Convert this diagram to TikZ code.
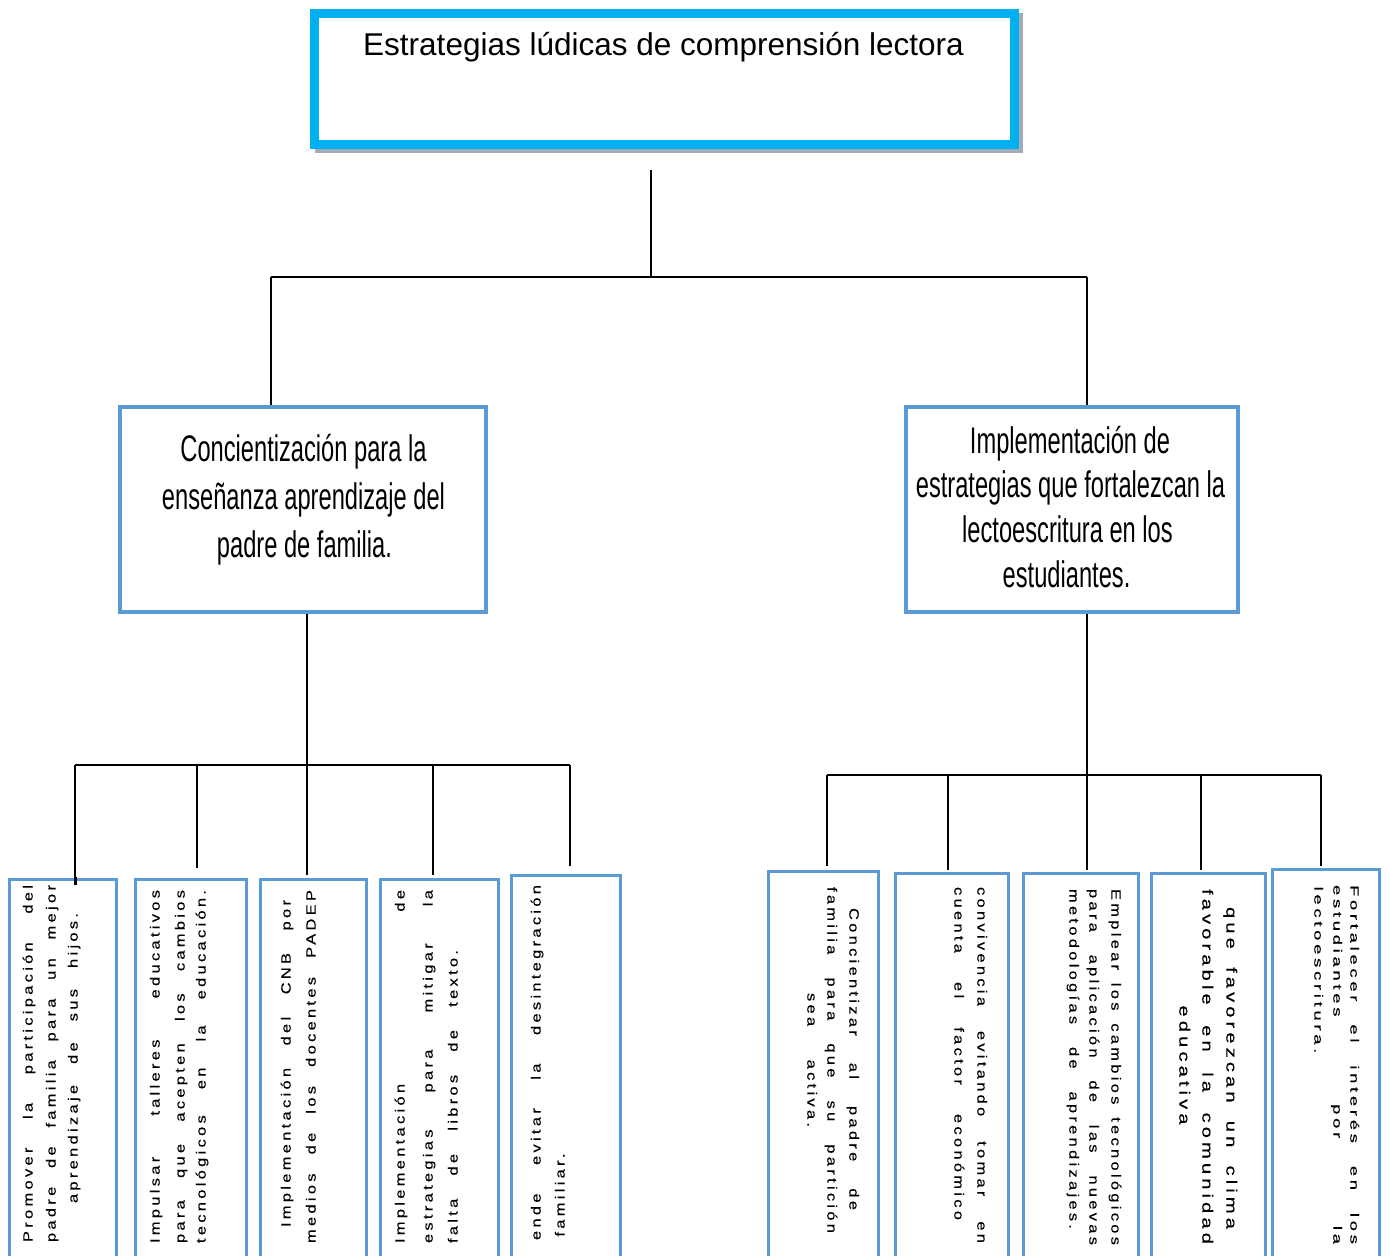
\documentclass[tikz,border=0pt]{standalone}
\usepackage{fontspec}
\usepackage{graphicx}
\setmainfont{Liberation Sans}
\newfontfamily\narrowf[FakeStretch=0.64]{Liberation Sans}
\newfontfamily\spacedf[LetterSpace=20, FakeBold=0.3]{Liberation Sans}
\definecolor{cyanb}{HTML}{00B0F0}
\definecolor{blueb}{HTML}{5B9BD5}
\definecolor{shadowg}{HTML}{A3ABB8}
\def\stk{1.22}\def\stp{122}
\newcommand\jl[2]{\scalebox{\stk}[1]{\makebox[\dimexpr #1pt*100/\stp\relax][s]{#2}}}
\newcommand\nl[1]{\scalebox{\stk}[1]{#1}}
\begin{document}
\begin{tikzpicture}[x=1pt,y=-1pt,
  topbox/.style={draw=cyanb, line width=9pt, fill=white, inner sep=0pt, minimum width=700pt, minimum height=131pt},
  midbox/.style={draw=blueb, line width=3.5pt, inner sep=0pt, minimum height=205pt},
  lowbox/.style={draw=blueb, line width=3pt, inner sep=0pt, anchor=north, minimum height=420pt},
  conn/.style={draw=black, line width=1.4pt},
  midtxt/.style={font=\narrowf\fontsize{37}{44}\selectfont, anchor=base, inner sep=0pt},
  lt/.style={font=\spacedf\fontsize{13.5}{16}\selectfont, anchor=mid, inner sep=0pt, rotate=90},
  rt/.style={font=\spacedf\fontsize{13.5}{16}\selectfont, anchor=mid, inner sep=0pt, rotate=-90},
  rtb/.style={rt, font=\spacedf\fontsize{15}{18}\selectfont\def\stk{1.35}\def\stp{135}},
  rtc/.style={rt, font=\spacedf\fontsize{12}{15}\selectfont\def\stk{1.54}\def\stp{154}},
]
\useasboundingbox (0,0) rectangle (1390,1256);
\fill[white] (0,0) rectangle (1390,1256);
\clip (0,0) rectangle (1390,1256);

% top box
\fill[shadowg] (315,13) rectangle (1022.5,153);
\node[topbox] (top) at (664,78.5) {};
\node[font=\fontsize{31.5}{38}\selectfont, anchor=base, inner sep=0pt] (title) at (663.5,55) {Estrategias lúdicas de comprensión lectora};

% middle boxes
\node[midbox, minimum width=366pt] (L) at (303,509.5) {};
\node[midbox, minimum width=332pt] (R) at (1072,509.5) {};
\node[midtxt] (l1) at (303.5,461) {Concientización para la};
\node[midtxt] (l2) at (303.5,509) {enseñanza aprendizaje del};
\node[midtxt] (l3) at (304.5,557.5) {padre de familia.};
\node[midtxt] (r1) at (1070,453) {Implementación de};
\node[midtxt] (r2) at (1070.5,497.5) {estrategias que fortalezcan la};
\node[midtxt] (r3) at (1067.5,542) {lectoescritura en los};
\node[midtxt] (r4) at (1066.5,587) {estudiantes.};

% bottom boxes
\node[lowbox, minimum width=107pt] (b1) at (63,877.5) {};
\node[lowbox, minimum width=111pt] (b2) at (191,877.5) {};
\node[lowbox, minimum width=106pt] (b3) at (313.5,877.5) {};
\node[lowbox, minimum width=118pt] (b4) at (439.5,877.5) {};
\node[lowbox, minimum width=109pt] (b5) at (565.5,873.5) {};
\node[lowbox, minimum width=110pt] (c1) at (823.5,869.5) {};
\node[lowbox, minimum width=113pt] (c2) at (952,871.5) {};
\node[lowbox, minimum width=115pt] (c3) at (1081,871.5) {};
\node[lowbox, minimum width=114pt] (c4) at (1208.5,871.5) {};
\node[lowbox, minimum width=107pt] (c5) at (1326,867.5) {};

% texts, left group
\node[lt] (b1a) at (30,1063.5) {\jl{357}{Promover la participación del}};
\node[lt] (b1b) at (53,1063.5) {\jl{357}{padre de familia para un mejor}};
\node[lt] (b1c) at (75,1058) {\jl{290}{aprendizaje de sus hijos.}};
\node[lt] (b2a) at (157,1066.5) {\jl{353}{Impulsar talleres educativos}};
\node[lt] (b2b) at (182,1066.5) {\jl{353}{para que acepten los cambios}};
\node[lt] (b2c) at (203,1066.5) {\jl{353}{tecnológicos en la educación.}};
\node[lt] (b3a) at (288,1063.5) {\jl{327}{Implementación del CNB por}};
\node[lt] (b3b) at (313,1066.5) {\jl{353}{medios de los docentes PADEP}};
\node[lt] (b4a) at (402,1066.5) {\jl{353}{Implementación de}};
\node[lt] (b4b) at (430,1066.5) {\jl{353}{estrategias para mitigar la}};
\node[lt] (b4c) at (455,1096.5) {\jl{293}{falta de libros de texto.}};
\node[lt] (b5a) at (538,1062.5) {\jl{355}{ende evitar la desintegración}};
\node[lt] (b5b) at (562,1195) {\nl{familiar.}};

% texts, right group
\node[rt] (c1a) at (852,1059) {\jl{302}{Concientizar al padre de}};
\node[rt] (c1b) at (830,1060) {\jl{346}{familia para que su partición}};
\node[rt] (c1c) at (810,1060) {\jl{134}{sea activa.}};
\node[rt] (c2a) at (980,1065) {\jl{356}{convivencia evitando tomar en}};
\node[rt] (c2b) at (957,1053.5) {\jl{333}{cuenta el factor económico}};
\node[rt] (c3a) at (1114,1067) {\jl{356}{Emplear los cambios tecnológicos}};
\node[rt] (c3b) at (1092,1067) {\jl{356}{para aplicación de las nuevas}};
\node[rt] (c3c) at (1072,1059) {\jl{340}{metodologías de aprendizajes.}};
\node[rtb] (c4a) at (1229,1068) {\jl{322}{que favorezcan un clima}};
\node[rtb] (c4b) at (1205,1066.5) {\jl{355}{favorable en la comunidad}};
\node[rtb] (c4c) at (1182,1065) {\nl{educativa}};
\node[rtc] (c5a) at (1353,1064.5) {\jl{359}{Fortalecer el interés en los}};
\node[rtc] (c5b) at (1336,1064.5) {\jl{359}{estudiantes por la}};
\node[rtc] (c5c) at (1317,970) {\nl{lectoescritura.}};

% connectors
\coordinate (t0) at (651,170);
\coordinate (t1) at (651,277);
\coordinate (tl) at (271,277);
\coordinate (tr) at (1087,277);
\draw[conn] (t0) -- (t1);
\draw[conn] (tl) -- (tr);
\draw[conn] (tl) -- (tl |- L.north);
\draw[conn] (tr) -- (tr |- R.north);

\coordinate (lh) at (307,765);
\coordinate (la) at (75,765);
\coordinate (le) at (570,765);
\draw[conn] (L.south -| lh) -- (lh);
\draw[conn] (la) -- (le);
\coordinate (d1) at (75,885);
\coordinate (d2) at (197,868);
\coordinate (d3) at (307,875);
\coordinate (d4) at (433,875);
\coordinate (d5) at (570,866);
\foreach \d in {d1,d2,d3,d4,d5} \draw[conn] (\d |- la) -- (\d);
\draw[line width=3pt] (75,877) -- (d1);

\coordinate (rh) at (1087,775);
\coordinate (ra) at (827,775);
\coordinate (re) at (1321,775);
\draw[conn] (R.south -| rh) -- (rh);
\draw[conn] (ra) -- (re);
\coordinate (e1) at (827,866);
\coordinate (e2) at (948,870);
\coordinate (e3) at (1087,870);
\coordinate (e4) at (1201,870);
\coordinate (e5) at (1321,866);
\foreach \e in {e1,e2,e3,e4,e5} \draw[conn] (\e |- ra) -- (\e);
\end{tikzpicture}
\end{document}
